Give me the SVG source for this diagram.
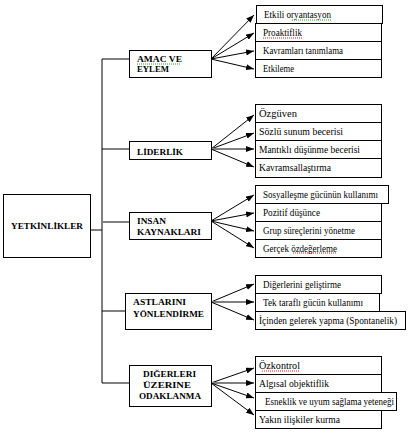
<svg xmlns="http://www.w3.org/2000/svg" width="413" height="437" viewBox="0 0 413 437">
<style>
.box{fill:#fff;stroke:#000;stroke-width:1}
.t{font-family:"Liberation Serif","Times New Roman","DejaVu Serif",serif;font-size:9.5px;fill:#000}
.b{font-family:"Liberation Serif","Times New Roman","DejaVu Serif",serif;font-size:9px;font-weight:bold;fill:#000}
.ln{stroke:#000;stroke-width:1;fill:none}
.ar{stroke:#000;stroke-width:1;fill:none;marker-end:url(#ah)}
.ag{stroke:#808080;stroke-width:2;fill:none;marker-end:url(#ah)}
.sqg{stroke:#2e9e2e;stroke-width:1;stroke-dasharray:1 1;fill:none}
.sqr{stroke:#e02020;stroke-width:1;stroke-dasharray:1 1;fill:none}
</style>
<defs>
<marker id="ah" markerUnits="userSpaceOnUse" markerWidth="8" markerHeight="6" refX="8" refY="3" orient="auto">
<path d="M0,0 L8,3 L0,6 z" fill="#000"/>
</marker>
</defs>
<rect width="413" height="437" fill="#fff"/>

<g id="connectors">
<path class="ln" d="M102,59 V383"/>
<path class="ln" d="M90,230 H102"/>
<path class="ln" d="M102,59 H129"/>
<path class="ln" d="M102,149 H129"/>
<path d="M102,222 H129" stroke="#808080" stroke-width="2" fill="none"/>
<path class="ln" d="M102,311 H125"/>
<path class="ln" d="M102,383 H129"/>
<path class="ar" d="M211,59 L254,15"/>
<path class="ar" d="M211,59 L254,33"/>
<path class="ar" d="M211,59 L254,51"/>
<path class="ar" d="M211,59 L254,69"/>
<path class="ar" d="M211,149 L254,115"/>
<path class="ar" d="M211,149 L254,133"/>
<path class="ag" d="M211,149 L254,149"/>
<path class="ar" d="M211,149 L254,167"/>
<path class="ar" d="M211,221 L254,195"/>
<path class="ar" d="M211,221 L254,213"/>
<path class="ar" d="M211,221 L254,231"/>
<path class="ar" d="M211,221 L254,248"/>
<path class="ar" d="M211,302 L254,284"/>
<path class="ag" d="M211,302 L254,302"/>
<path class="ar" d="M211,302 L254,320"/>
<path class="ar" d="M211,383 L254,368"/>
<path class="ag" d="M211,383 L254,383"/>
<path class="ar" d="M211,383 L254,398"/>
<path class="ar" d="M211,383 L254,415"/>
</g>

<g id="yetkinlikler">
<rect class="box" x="3.5" y="194.5" width="87" height="63"/>
<text class="b" x="11" y="229" textLength="72" lengthAdjust="spacingAndGlyphs">YETKİNLİKLER</text>
</g>

<g id="amac">
<rect class="box" x="129.5" y="50.5" width="82" height="27"/>
<text class="b" x="137" y="62" textLength="45" lengthAdjust="spacingAndGlyphs">AMAC VE</text>
<text class="b" x="137" y="72" textLength="32" lengthAdjust="spacingAndGlyphs">EYLEM</text>
<path class="sqg" d="M137,64 H181"/>
</g>
<g id="amac-items">
<rect class="box" x="256.5" y="5.5" width="126" height="18"/>
<text class="t" x="264" y="18" textLength="67" lengthAdjust="spacingAndGlyphs">Etkili oryantasyon</text>
<path class="sqg" d="M292,20 H331"/>
<rect class="box" x="255.5" y="23.5" width="126" height="18"/>
<text class="t" x="263" y="36" textLength="39" lengthAdjust="spacingAndGlyphs">Proaktiflik</text>
<path class="sqr" d="M263,38 H303"/>
<rect class="box" x="255.5" y="41.5" width="126" height="18"/>
<text class="t" x="263" y="54" textLength="80" lengthAdjust="spacingAndGlyphs">Kavramları tanımlama</text>
<rect class="box" x="255.5" y="59.5" width="126" height="18"/>
<text class="t" x="263" y="72" textLength="31" lengthAdjust="spacingAndGlyphs">Etkileme</text>
</g>

<g id="liderlik">
<rect class="box" x="129.5" y="141.5" width="82" height="18"/>
<text class="b" x="137" y="155" textLength="46" lengthAdjust="spacingAndGlyphs">LİDERLİK</text>
</g>
<g id="liderlik-items">
<rect class="box" x="255.5" y="104.5" width="126" height="18"/>
<text class="t" x="259" y="117" textLength="38" lengthAdjust="spacingAndGlyphs">Özgüven</text>
<rect class="box" x="255.5" y="122.5" width="126" height="18"/>
<text class="t" x="259" y="135" textLength="84" lengthAdjust="spacingAndGlyphs">Sözlü sunum becerisi</text>
<rect class="box" x="255.5" y="140.5" width="126" height="18"/>
<text class="t" x="259" y="153" textLength="101" lengthAdjust="spacingAndGlyphs">Mantıklı düşünme becerisi</text>
<rect class="box" x="255.5" y="158.5" width="126" height="19"/>
<text class="t" x="259" y="171" textLength="72" lengthAdjust="spacingAndGlyphs">Kavramsallaştırma</text>
</g>

<g id="insan">
<rect class="box" x="129.5" y="212.5" width="82" height="27"/>
<text class="b" x="137" y="224" textLength="29" lengthAdjust="spacingAndGlyphs">INSAN</text>
<text class="b" x="137" y="235" textLength="64" lengthAdjust="spacingAndGlyphs">KAYNAKLARI</text>
</g>
<g id="insan-items">
<rect class="box" x="255.5" y="185.5" width="133" height="18"/>
<text class="t" x="263" y="198" textLength="115" lengthAdjust="spacingAndGlyphs">Sosyalleşme gücünün kullanımı</text>
<rect class="box" x="255.5" y="203.5" width="126" height="18"/>
<text class="t" x="263" y="216" textLength="57" lengthAdjust="spacingAndGlyphs">Pozitif düşünce</text>
<rect class="box" x="255.5" y="221.5" width="126" height="18"/>
<text class="t" x="263" y="234" textLength="92" lengthAdjust="spacingAndGlyphs">Grup süreçlerini yönetme</text>
<rect class="box" x="255.5" y="239.5" width="126" height="18"/>
<text class="t" x="263" y="252" textLength="74" lengthAdjust="spacingAndGlyphs">Gerçek özdeğerleme</text>
<path class="sqr" d="M293,253 H337"/>
</g>

<g id="astlarini">
<rect class="box" x="125.5" y="293.5" width="86" height="36"/>
<text class="b" x="133" y="305" textLength="53" lengthAdjust="spacingAndGlyphs">ASTLARINI</text>
<text class="b" x="133" y="317" textLength="71" lengthAdjust="spacingAndGlyphs">YÖNLENDİRME</text>
</g>
<g id="astlarini-items">
<rect class="box" x="255.5" y="275.5" width="126" height="18"/>
<text class="t" x="263" y="288" textLength="78" lengthAdjust="spacingAndGlyphs">Diğerlerini geliştirme</text>
<rect class="box" x="255.5" y="293.5" width="124" height="18"/>
<text class="t" x="263" y="306" textLength="100" lengthAdjust="spacingAndGlyphs">Tek taraflı gücün kullanımı</text>
<rect class="box" x="255.5" y="311.5" width="150" height="18"/>
<text class="t" x="259" y="324" textLength="138" lengthAdjust="spacingAndGlyphs">İçinden gelerek yapma (Spontanelik)</text>
</g>

<g id="digerleri">
<rect class="box" x="129.5" y="365.5" width="82" height="41"/>
<text class="b" x="143" y="377" textLength="53" lengthAdjust="spacingAndGlyphs">DIĞERLERI</text>
<text class="b" x="143" y="388" textLength="48" lengthAdjust="spacingAndGlyphs">ÜZERINE</text>
<text class="b" x="139" y="399" textLength="62" lengthAdjust="spacingAndGlyphs">ODAKLANMA</text>
</g>
<g id="digerleri-items">
<rect class="box" x="255.5" y="356.5" width="126" height="18"/>
<text class="t" x="259" y="369" textLength="41" lengthAdjust="spacingAndGlyphs">Özkontrol</text>
<path class="sqr" d="M262,371 H299"/>
<rect class="box" x="255.5" y="374.5" width="126" height="18"/>
<text class="t" x="259" y="387" textLength="70" lengthAdjust="spacingAndGlyphs">Algısal objektiflik</text>
<rect class="box" x="255.5" y="392.5" width="141" height="18"/>
<text class="t" x="265" y="405" textLength="129" lengthAdjust="spacingAndGlyphs">Esneklik ve uyum sağlama yeteneği</text>
<rect class="box" x="255.5" y="410.5" width="126" height="18"/>
<text class="t" x="259" y="423" textLength="81" lengthAdjust="spacingAndGlyphs">Yakın ilişkiler kurma</text>
</g>
</svg>
